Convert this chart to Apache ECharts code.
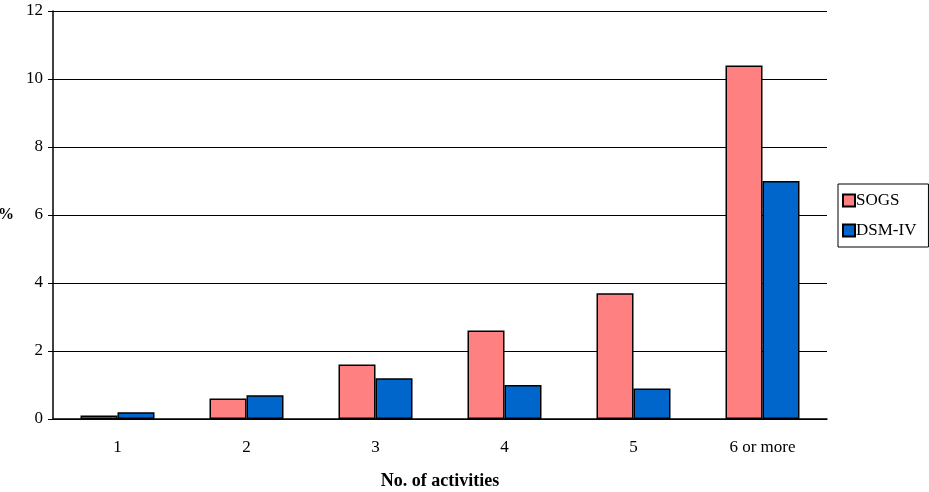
<!DOCTYPE html>
<html>
<head>
<meta charset="utf-8">
<script src="https://cdn.jsdelivr.net/npm/echarts@6/dist/echarts.min.js"></script>
<style>
html,body{margin:0;padding:0;background:#fff;}
#chart{width:929px;height:492px;}
</style>
</head>
<body>
<div id="chart"></div>
<script>
// Share of respondents (%) by number of gambling activities
const categories = ['1', '2', '3', '4', '5', '6 or more'];
const sogs = [0.1, 0.6, 1.6, 2.6, 3.7, 10.4];
const dsm = [0.2, 0.7, 1.2, 1.0, 0.9, 7.0];
const seriesNames = ['SOGS', 'DSM-IV'];

const font = 'Liberation Serif, DejaVu Serif, serif';
const chart = echarts.init(document.getElementById('chart'));
chart.setOption({
  animation: false,
  textStyle: { fontFamily: font },
  grid: { left: 53, right: 102, top: 11, bottom: 73, containLabel: false, outerBoundsMode: 'none' },
  legend: {
    orient: 'vertical',
    left: 838, top: 184,
    padding: [8, 12, 8, 4],
    itemGap: 13,
    borderColor: '#000', borderWidth: 1,
    itemWidth: 12, itemHeight: 12,
    icon: 'rect',
    textStyle: { fontFamily: font, fontSize: 17, color: '#000', padding: [0, 0, 0, -4] },
    data: seriesNames
  },
  xAxis: {
    type: 'category',
    data: categories,
    axisLine: { lineStyle: { color: '#000', width: 1.5 } },
    axisTick: { show: false },
    axisLabel: { color: '#000', fontSize: 17, fontFamily: font, margin: 20 },
    name: 'No. of activities',
    nameLocation: 'middle',
    nameGap: 53,
    nameTextStyle: { color: '#000', fontSize: 18, fontWeight: 'bold', fontFamily: font }
  },
  yAxis: {
    type: 'value',
    min: 0, max: 12, interval: 2,
    axisLine: { show: true, lineStyle: { color: '#000', width: 1.5 } },
    axisTick: { show: true, length: 5, lineStyle: { color: '#000' } },
    axisLabel: { color: '#000', fontSize: 17, fontFamily: font, margin: 10 },
    splitLine: { lineStyle: { color: '#000', width: 1 } },
    name: '%',
    nameLocation: 'middle',
    nameRotate: 0,
    nameGap: 39,
    nameTextStyle: { color: '#000', fontSize: 16, fontWeight: 'bold', fontFamily: font }
  },
  series: [
    {
      name: seriesNames[0], type: 'bar', data: sogs,
      barWidth: 37, barGap: '0%',
      itemStyle: { color: '#FF8080', borderColor: '#000', borderWidth: 1.5 }
    },
    {
      name: seriesNames[1], type: 'bar', data: dsm,
      barWidth: 37, barGap: '0%',
      itemStyle: { color: '#0066CC', borderColor: '#000', borderWidth: 1.5 }
    }
  ]
});
</script>
</body>
</html>
